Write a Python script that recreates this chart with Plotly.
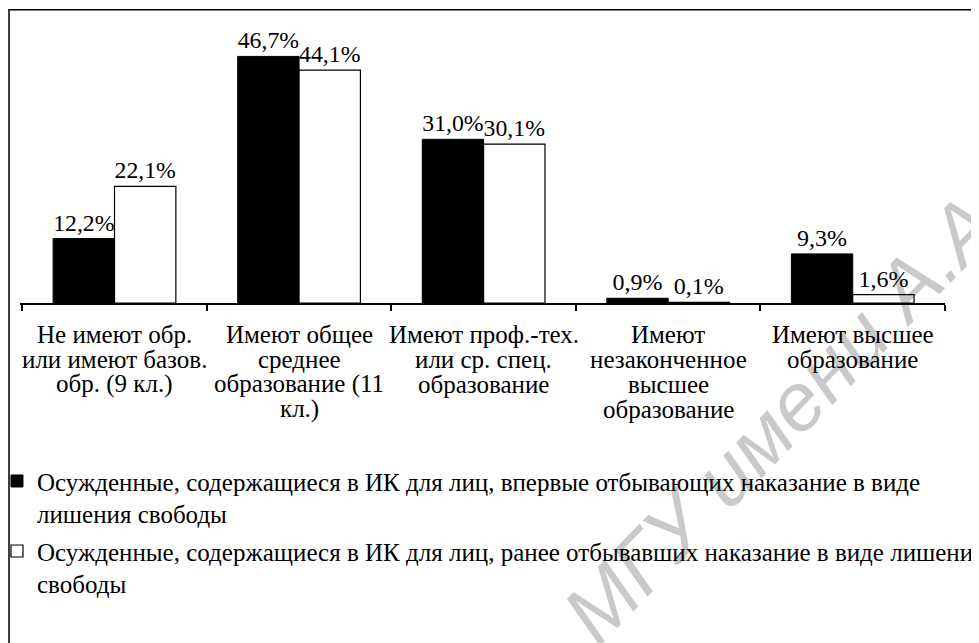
import plotly.graph_objects as go

# ---- data ----
category_lines = [
    ["Не имеют обр.", "или имеют базов.", "обр. (9 кл.)"],
    ["Имеют общее", "среднее", "образование (11", "кл.)"],
    ["Имеют проф.-тех.", "или ср. спец.", "образование"],
    ["Имеют", "незаконченное", "высшее", "образование"],
    ["Имеют высшее", "образование"],
]
categories = [" ".join(lines) for lines in category_lines]
first_time = [12.2, 46.7, 31.0, 0.9, 9.3]
repeat_time = [22.1, 44.1, 30.1, 0.1, 1.6]
series_names = [
    "Осужденные, содержащиеся в ИК для лиц, впервые отбывающих наказание в виде<br>лишения свободы",
    "Осужденные, содержащиеся в ИК для лиц, ранее отбывавших наказание в виде лишения<br>свободы",
]
watermark = "МГУ имени А.А. Кулешова"

FONT = "Liberation Serif"


def fmt(v):
    return f"{v:.1f}%".replace(".", ",")


fig = go.Figure()
fig.add_trace(go.Bar(
    x=categories, y=first_time, name=series_names[0],
    marker=dict(color="black", line=dict(color="black", width=1)),
    text=[fmt(v) for v in first_time], textposition="outside",
    textfont=dict(family=FONT, size=24, color="black"),
    cliponaxis=False, legendgroup="a",
))
fig.add_trace(go.Bar(
    x=categories, y=repeat_time, name=series_names[1],
    marker=dict(color="white", line=dict(color="black", width=1.2)),
    text=[fmt(v) for v in repeat_time], textposition="outside",
    textfont=dict(family=FONT, size=24, color="black"),
    cliponaxis=False, legendgroup="b",
))

annotations = [dict(
    x=0.98, y=0.14, xref="paper", yref="paper", text=watermark, showarrow=False,
    textangle=-46, xanchor="center", yanchor="middle",
    font=dict(family="Liberation Sans", size=82, color="rgba(0,0,0,0.21)", style="italic"),
)]
for cat, lines in zip(categories, category_lines):
    for i, line in enumerate(lines):
        annotations.append(dict(
            x=cat, xref="x", y=0, yref="y", text=line, showarrow=False,
            xanchor="center", yanchor="middle", yshift=-(31 + i * 25),
            font=dict(family=FONT, size=25, color="black"),
        ))

fig.update_layout(
    width=979, height=643,
    margin=dict(l=12, r=42, t=30.5, b=347.7, pad=0, autoexpand=False),
    paper_bgcolor="white", plot_bgcolor="white",
    barmode="group", bargap=0.335, bargroupgap=0,
    showlegend=True,
    legend=dict(
        x=-0.0249, y=-0.588, xanchor="left", yanchor="top", valign="top",
        font=dict(family=FONT, size=25, color="black"),
        tracegroupgap=2, traceorder="grouped",
        bgcolor="rgba(0,0,0,0)",
    ),
    xaxis=dict(
        showticklabels=False, showline=True, linecolor="black", linewidth=1.5,
        ticks="outside", tickson="boundaries", ticklen=6, tickcolor="black",
        tickwidth=1.5, showgrid=False, zeroline=False, fixedrange=True,
    ),
    yaxis=dict(
        range=[0, 50], visible=False, showgrid=False, zeroline=False,
        fixedrange=True,
    ),
    annotations=annotations,
    shapes=[dict(
        type="rect", xref="paper", yref="paper",
        x0=-0.0119, x1=1.2, y0=-2.0, y1=1.111,
        line=dict(color="black", width=1.5), fillcolor="rgba(0,0,0,0)",
        layer="below",
    )],
)

fig.write_html("out.html")
